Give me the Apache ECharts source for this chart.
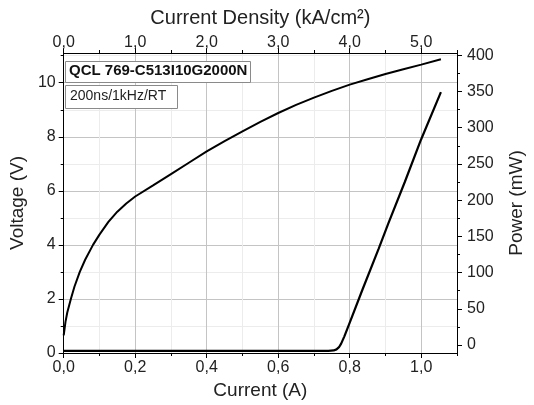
<!DOCTYPE html>
<html>
<head>
<meta charset="utf-8">
<script src="https://cdn.jsdelivr.net/npm/echarts@6/dist/echarts.min.js"></script>
<style>
html,body{margin:0;padding:0;background:#fff;}
#chart{width:534px;height:405px;}
</style>
</head>
<body>
<div id="chart"></div>
<script>
// Voltage curve (current in A, voltage in V)
var currentV = [0, 0.005, 0.01, 0.02, 0.03, 0.045, 0.06, 0.082, 0.1, 0.125, 0.15, 0.175, 0.2, 0.25, 0.3, 0.35, 0.4, 0.45, 0.5, 0.55, 0.6, 0.65, 0.7, 0.75, 0.8, 0.85, 0.9, 0.95, 1.0, 1.055];
var voltage  = [0.65, 1.15, 1.5, 2.0, 2.45, 3.0, 3.45, 4.0, 4.38, 4.85, 5.23, 5.53, 5.79, 6.2, 6.62, 7.04, 7.46, 7.84, 8.2, 8.55, 8.88, 9.18, 9.45, 9.70, 9.93, 10.13, 10.32, 10.50, 10.67, 10.87];
// Power curve (current in A, power in mW)
var currentP = [0, 0.2, 0.4, 0.6, 0.740, 0.755, 0.763, 0.770, 0.776, 0.785, 0.800, 0.836, 0.881, 0.908, 0.954, 0.999, 1.055];
var power    = [-8, -8, -8, -8, -8, -7.5, -6, -3, 2, 12, 31, 77, 133, 168, 225, 283, 349];

// Tick values
var currentMajor = [0, 0.2, 0.4, 0.6, 0.8, 1.0];
var currentMinor = [0.1, 0.3, 0.5, 0.7, 0.9, 1.1];
var densityMajor = [0, 1, 2, 3, 4, 5];
var densityMinor = [0.5, 1.5, 2.5, 3.5, 4.5, 5.5];
var voltageMajor = [0, 2, 4, 6, 8, 10];
var voltageMinor = [1, 3, 5, 7, 9, 11];
var powerMajor = [0, 50, 100, 150, 200, 250, 300, 350, 400];
var powerMinor = [25, 75, 125, 175, 225, 275, 325, 375];

var FONT = 'Liberation Sans, Arial, sans-serif';
var comma = function (d) { return function (v) { return v.toFixed(d).replace('.', ','); }; };

function zipPairs(xs, ys) { return xs.map(function (x, i) { return [x, ys[i]]; }); }

var chart = echarts.init(document.getElementById('chart'), null, {renderer: 'canvas'});

var lineStyleAxis = {show: true, onZero: false, lineStyle: {color: '#000', width: 1}};
var hiddenLine = {show: false, onZero: false};

chart.setOption({
  animation: false,
  backgroundColor: '#fff',
  grid: {left: 60, right: 70, top: 53, bottom: 52, containLabel: false},
  xAxis: [
    { // bottom major
      type: 'value', position: 'bottom', min: 0, max: 1.1,
      axisLine: lineStyleAxis,
      axisTick: {show: true, inside: false, length: 5, customValues: currentMajor, lineStyle: {color: '#000'}},
      axisLabel: {customValues: currentMajor, formatter: comma(1), color: '#222', fontSize: 16, fontFamily: FONT, margin: 7},
      splitLine: {show: true, lineStyle: {color: '#c4c4c4', width: 1}},
      name: 'Current (A)', nameLocation: 'middle', nameGap: 25,
      nameTextStyle: {fontSize: 19, color: '#222', fontFamily: FONT}
    },
    { // bottom minor
      type: 'value', position: 'bottom', min: 0, max: 1.1,
      axisLine: hiddenLine,
      axisTick: {show: true, length: 3, customValues: currentMinor, lineStyle: {color: '#000'}},
      axisLabel: {show: false},
      splitLine: {show: true, lineStyle: {color: '#ececec', width: 1}}
    },
    { // top major
      type: 'value', position: 'top', min: 0, max: 5.5,
      axisLine: lineStyleAxis,
      axisTick: {show: true, length: 5, customValues: densityMajor, lineStyle: {color: '#000'}},
      axisLabel: {customValues: densityMajor, formatter: comma(1), color: '#222', fontSize: 16, fontFamily: FONT, margin: 2},
      splitLine: {show: false},
      name: 'Current Density (kA/cm\u00B2)', nameLocation: 'middle', nameGap: 25,
      nameTextStyle: {fontSize: 20, color: '#222', fontFamily: FONT}
    },
    { // top minor
      type: 'value', position: 'top', min: 0, max: 5.5,
      axisLine: hiddenLine,
      axisTick: {show: true, length: 3, customValues: densityMinor, lineStyle: {color: '#000'}},
      axisLabel: {show: false},
      splitLine: {show: false}
    }
  ],
  yAxis: [
    { // left major
      type: 'value', position: 'left', min: 0, max: 11.1,
      axisLine: lineStyleAxis,
      axisTick: {show: true, length: 5, customValues: voltageMajor, lineStyle: {color: '#000'}},
      axisLabel: {customValues: voltageMajor, color: '#222', fontSize: 16, fontFamily: FONT, margin: 8},
      splitLine: {show: true, lineStyle: {color: '#c4c4c4', width: 1}},
      name: 'Voltage (V)', nameLocation: 'middle', nameGap: 26, nameRotate: 90,
      nameTextStyle: {fontSize: 19, color: '#222', fontFamily: FONT}
    },
    { // left minor
      type: 'value', position: 'left', min: 0, max: 11.1,
      axisLine: hiddenLine,
      axisTick: {show: true, length: 3, customValues: voltageMinor, lineStyle: {color: '#000'}},
      axisLabel: {show: false},
      splitLine: {show: true, lineStyle: {color: '#ececec', width: 1}}
    },
    { // right major
      type: 'value', position: 'right', min: -11, max: 403,
      axisLine: lineStyleAxis,
      axisTick: {show: true, length: 5, customValues: powerMajor, lineStyle: {color: '#000'}},
      axisLabel: {customValues: powerMajor, color: '#222', fontSize: 16, fontFamily: FONT, margin: 10},
      splitLine: {show: false},
      name: 'Power (mW)', nameLocation: 'middle', nameGap: 50, nameRotate: 90,
      nameTextStyle: {fontSize: 19, color: '#222', fontFamily: FONT}
    },
    { // right minor
      type: 'value', position: 'right', min: -11, max: 403,
      axisLine: hiddenLine,
      axisTick: {show: true, length: 3, customValues: powerMinor, lineStyle: {color: '#000'}},
      axisLabel: {show: false},
      splitLine: {show: false}
    }
  ],
  series: [
    {
      type: 'line', name: 'Voltage', xAxisIndex: 0, yAxisIndex: 0,
      data: zipPairs(currentV, voltage),
      showSymbol: false, smooth: false,
      lineStyle: {color: '#000', width: 2}, z: 5
    },
    {
      type: 'line', name: 'Power', xAxisIndex: 0, yAxisIndex: 2,
      data: zipPairs(currentP, power),
      showSymbol: false, smooth: false,
      lineStyle: {color: '#000', width: 2.2}, z: 5
    }
  ],
  graphic: [
    {type: 'rect', left: 65, top: 61, z: 100, shape: {width: 185, height: 21},
     style: {fill: '#fff', stroke: '#8a8a8a', lineWidth: 1}},
    {type: 'text', left: 69, top: 63, z: 101,
     style: {text: 'QCL 769-C513I10G2000N', font: 'bold 15px ' + FONT, fill: '#111'}},
    {type: 'rect', left: 65, top: 85, z: 100, shape: {width: 112, height: 23},
     style: {fill: '#fff', stroke: '#8a8a8a', lineWidth: 1}},
    {type: 'text', left: 70, top: 89, z: 101,
     style: {text: '200ns/1kHz/RT', font: '14px ' + FONT, fill: '#222'}}
  ]
});
</script>
</body>
</html>
